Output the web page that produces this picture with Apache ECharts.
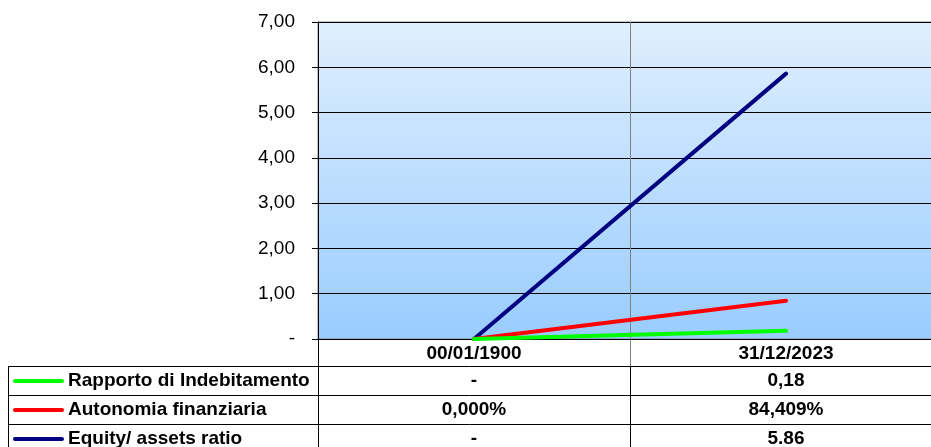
<!DOCTYPE html>
<html><head><meta charset="utf-8">
<script src="https://cdn.jsdelivr.net/npm/echarts@6/dist/echarts.min.js"></script>
<style>html,body{margin:0;padding:0;background:#fff;}#c{width:931px;height:447px;}</style>
</head><body><div id="c"></div>
<script>
const categories = ['00/01/1900', '31/12/2023'];
const seriesNames = ['Rapporto di Indebitamento', 'Autonomia finanziaria', 'Equity/ assets ratio'];
const seriesColors = ['#00ff00', '#ff0000', '#000080'];
const ratioDebt = [0, 0.18];
const autonomy = [0, 0.84409];
const equityAssets = [0, 5.86];
const tableDebt = ['-', '0,18'];
const tableAutonomy = ['0,000%', '84,409%'];
const tableEquity = ['-', '5.86'];
const yMin = 0, yMax = 7, yStep = 1;

const FONT = 'Liberation Sans, Arial, sans-serif';
const chart = echarts.init(document.getElementById('c'), null, {renderer: 'canvas'});
const seriesData = [ratioDebt, autonomy, equityAssets];
const tableRows = [tableDebt, tableAutonomy, tableEquity];

const option = {
  animation: false,
  grid: {
    left: 318, top: 22, height: 317, width: 624,
    containLabel: false, outerBoundsMode: 'none',
    show: true, borderColor: '#808080', borderWidth: 1,
    backgroundColor: {type: 'linear', x: 0, y: 0, x2: 0, y2: 1,
      colorStops: [{offset: 0, color: '#e0effd'}, {offset: 1, color: '#99ccff'}]}
  },
  xAxis: {
    type: 'category', data: categories, boundaryGap: true,
    axisLine: {lineStyle: {color: '#000', width: 1}},
    axisTick: {show: false},
    splitLine: {show: true, lineStyle: {color: '#808080', width: 1}},
    axisLabel: {fontFamily: FONT, fontSize: 19, fontWeight: 'bold', color: '#000', margin: 5}
  },
  yAxis: {
    type: 'value', min: yMin, max: yMax, interval: yStep,
    axisLine: {show: true, lineStyle: {color: '#000', width: 1}},
    axisTick: {show: true, length: 6, lineStyle: {color: '#000'}},
    splitLine: {show: true, lineStyle: {color: '#000', width: 1}},
    axisLabel: {fontFamily: FONT, fontSize: 19, color: '#000', margin: 23,
      formatter: v => v === 0 ? '-' : v.toFixed(2).replace('.', ',')}
  },
  series: seriesNames.map((n, i) => ({
    name: n, type: 'line', data: seriesData[i], symbol: 'none',
    lineStyle: {color: seriesColors[i], width: 4, cap: 'round'},
    z: 3 + (2 - i)
  }))
};
chart.setOption(option);

function buildTable() {
  const g = [];
  const rowTop = 366, rowH = 29;
  const lineStyle = {stroke: '#000', lineWidth: 1};
  const xs = categories.map((c, i) => chart.convertToPixel({xAxisIndex: 0}, i));
  const plotLeft = 318, mid = (xs[0] + xs[1]) / 2;
  for (let r = 0; r < 3; r++) {
    g.push({type: 'line', shape: {x1: 8, y1: rowTop + r * rowH + 0.5, x2: 931, y2: rowTop + r * rowH + 0.5}, style: lineStyle, silent: true});
  }
  g.push({type: 'line', shape: {x1: 8.5, y1: rowTop, x2: 8.5, y2: 447}, style: lineStyle});
  g.push({type: 'line', shape: {x1: plotLeft + 0.5, y1: 339, x2: plotLeft + 0.5, y2: 447}, style: lineStyle});
  g.push({type: 'line', shape: {x1: Math.round(mid) + 0.5, y1: 366, x2: Math.round(mid) + 0.5, y2: 447}, style: lineStyle});
  g.push({type: 'line', shape: {x1: Math.round(mid) + 0.5, y1: 339, x2: Math.round(mid) + 0.5, y2: 366}, style: {stroke: '#808080', lineWidth: 1}});
  for (let r = 0; r < 3; r++) {
    const cy = rowTop + r * rowH + rowH / 2 + 0.5;
    g.push({type: 'line', shape: {x1: 15, y1: cy, x2: 62, y2: cy},
      style: {stroke: seriesColors[r], lineWidth: 4, lineCap: 'round'}});
    g.push({type: 'text', x: 68, y: cy, style: {text: seriesNames[r], font: 'bold 19px ' + FONT,
      fill: '#000', textAlign: 'left', textVerticalAlign: 'middle'}});
    tableRows[r].forEach((t, i) => {
      g.push({type: 'text', x: xs[i], y: cy, style: {text: t, font: 'bold 19px ' + FONT,
        fill: '#000', textAlign: 'center', textVerticalAlign: 'middle'}});
    });
  }
  chart.setOption({graphic: g});
}
buildTable();
</script></body></html>
